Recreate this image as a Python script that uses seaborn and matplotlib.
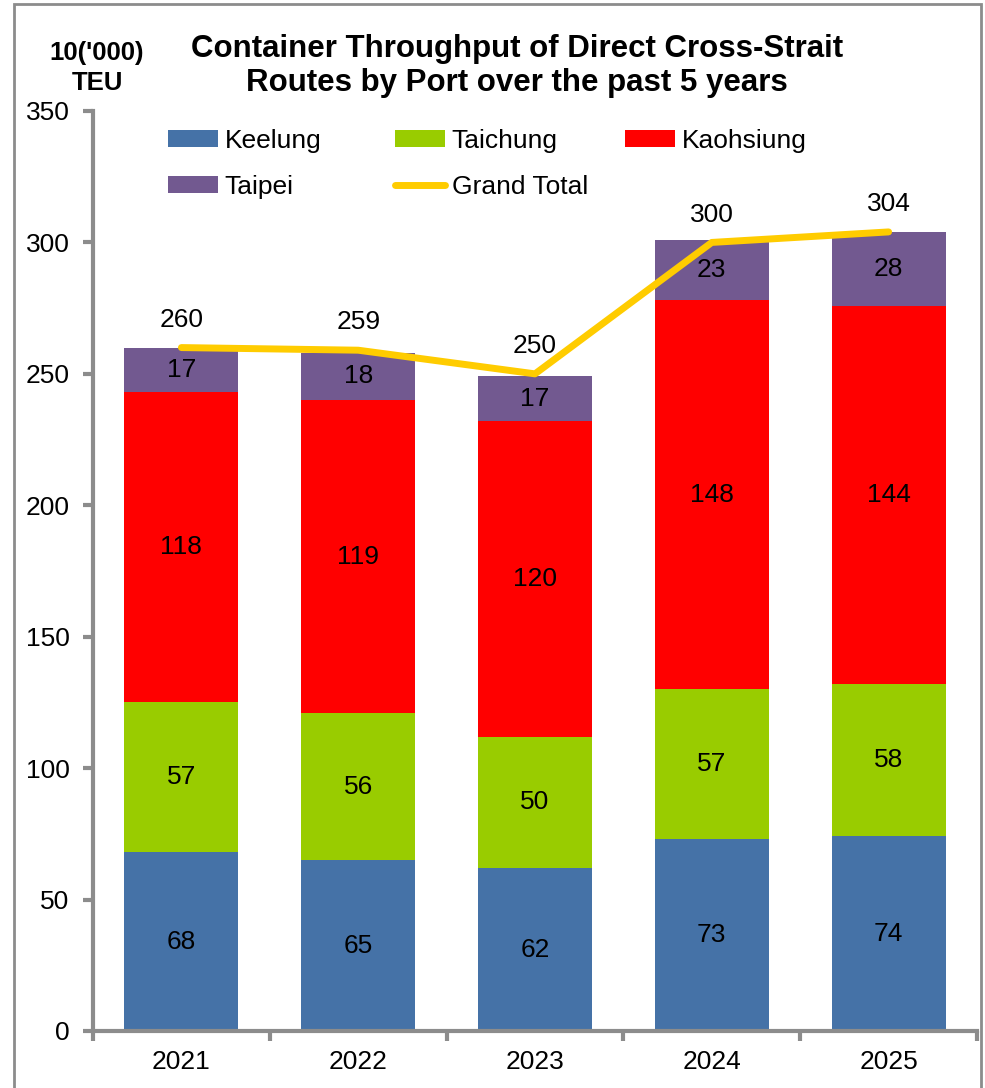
import numpy as np
import pandas as pd
import matplotlib
matplotlib.use("Agg")
import matplotlib.pyplot as plt
import seaborn as sns
from matplotlib.patches import Rectangle
from matplotlib.lines import Line2D
from matplotlib.patches import Patch

years = ["2021", "2022", "2023", "2024", "2025"]
keelung = [68, 65, 62, 73, 74]
taichung = [57, 56, 50, 57, 58]
kaohsiung = [118, 119, 120, 148, 144]
taipei = [17, 18, 17, 23, 28]
grand_total = [260, 259, 250, 300, 304]

series_names = ["Keelung", "Taichung", "Kaohsiung", "Taipei"]
series_vals = [keelung, taichung, kaohsiung, taipei]
colors = ["#4572A7", "#99CC00", "#FF0000", "#725990"]
line_color = "#FFCC00"

sns.set_theme(style="white")
plt.rcParams["font.family"] = ["Liberation Sans", "DejaVu Sans"]
plt.rcParams["text.color"] = "black"
plt.rcParams["xtick.color"] = "black"
plt.rcParams["ytick.color"] = "black"

W, H = 985, 1088
fig = plt.figure(figsize=(W / 100, H / 100), dpi=100)
ax = fig.add_axes([93 / W, 1 - 1031 / H, (977 - 93) / W, (1031 - 111) / H])

# outer frame
fig.patches.append(Rectangle((14 / W, -0.01), (981 - 14) / W, 1 - 4 / H + 0.01,
                             transform=fig.transFigure, fill=False,
                             edgecolor="#8c8c8c", linewidth=2))

FS = 19
bottom = np.zeros(len(years))
for name, vals, c in zip(series_names, series_vals, colors):
    df = pd.DataFrame({"year": years, "val": vals})
    sns.barplot(data=df, x="year", y="val", color=c, bottom=bottom, width=0.645,
                ax=ax, saturation=1, linewidth=0, zorder=2)
    for i, v in enumerate(vals):
        ax.text(i, bottom[i] + v / 2, f"{v}", ha="center", va="center",
                fontsize=FS, color="black", zorder=5)
    bottom = bottom + np.array(vals)

xs = np.arange(len(years))
sns.lineplot(x=xs, y=grand_total, color=line_color, linewidth=5, ax=ax, zorder=4)
for i, v in enumerate(grand_total):
    ax.text(i, v + 6, f"{v}", ha="center", va="bottom", fontsize=FS, color="black")

ax.set_xlim(-0.5, 4.5)
ax.set_ylim(0, 350)
ax.set_yticks(np.arange(0, 351, 50))
ax.set_xticks(xs)
ax.set_xticklabels(years)
ax.set_xticks(np.arange(-0.5, 4.6, 1.0), minor=True)
ax.set_xlabel("")
ax.set_ylabel("")

for s in ["top", "right"]:
    ax.spines[s].set_visible(False)
for s in ["left", "bottom"]:
    ax.spines[s].set_color("#8c8c8c")
    ax.spines[s].set_linewidth(3)

ax.tick_params(axis="y", which="major", direction="out", length=7, width=3,
               color="#8c8c8c", labelcolor="black", labelsize=FS, pad=10, left=True)
ax.tick_params(axis="x", which="major", length=0, labelsize=FS, pad=14,
               labelcolor="black", bottom=True)
ax.tick_params(axis="x", which="minor", direction="out", length=7, width=3,
               color="#8c8c8c", bottom=True)

patch_h = [Patch(facecolor=c, edgecolor="none") for c in colors]
line_h = Line2D([0], [0], color=line_color, linewidth=5, solid_capstyle="round")

legend_cols = [
    (168, [patch_h[0], patch_h[3]], ["Keelung", "Taipei"]),
    (395, [patch_h[1], line_h], ["Taichung", "Grand Total"]),
    (625, [patch_h[2]], ["Kaohsiung"]),
]
for xpix, hs, ls in legend_cols:
    leg = fig.legend(hs, ls, loc="upper left",
                     bbox_to_anchor=(xpix / W, 1 - 129 / H),
                     bbox_transform=fig.transFigure,
                     frameon=False, fontsize=FS, borderpad=0, borderaxespad=0,
                     handlelength=1.9, handleheight=0.6, handletextpad=0.25,
                     labelspacing=0.82)

fig.text(517 / W, 1 - 66 / H,
         "Container Throughput of Direct Cross-Strait\nRoutes by Port over the past 5 years",
         ha="center", va="center", fontsize=22.5, fontweight="bold", linespacing=1.2)
fig.text(97 / W, 1 - 68 / H, "10('000)\nTEU", ha="center", va="center",
         fontsize=18.5, fontweight="bold", linespacing=1.3)

fig.savefig("out.png", dpi=100)
